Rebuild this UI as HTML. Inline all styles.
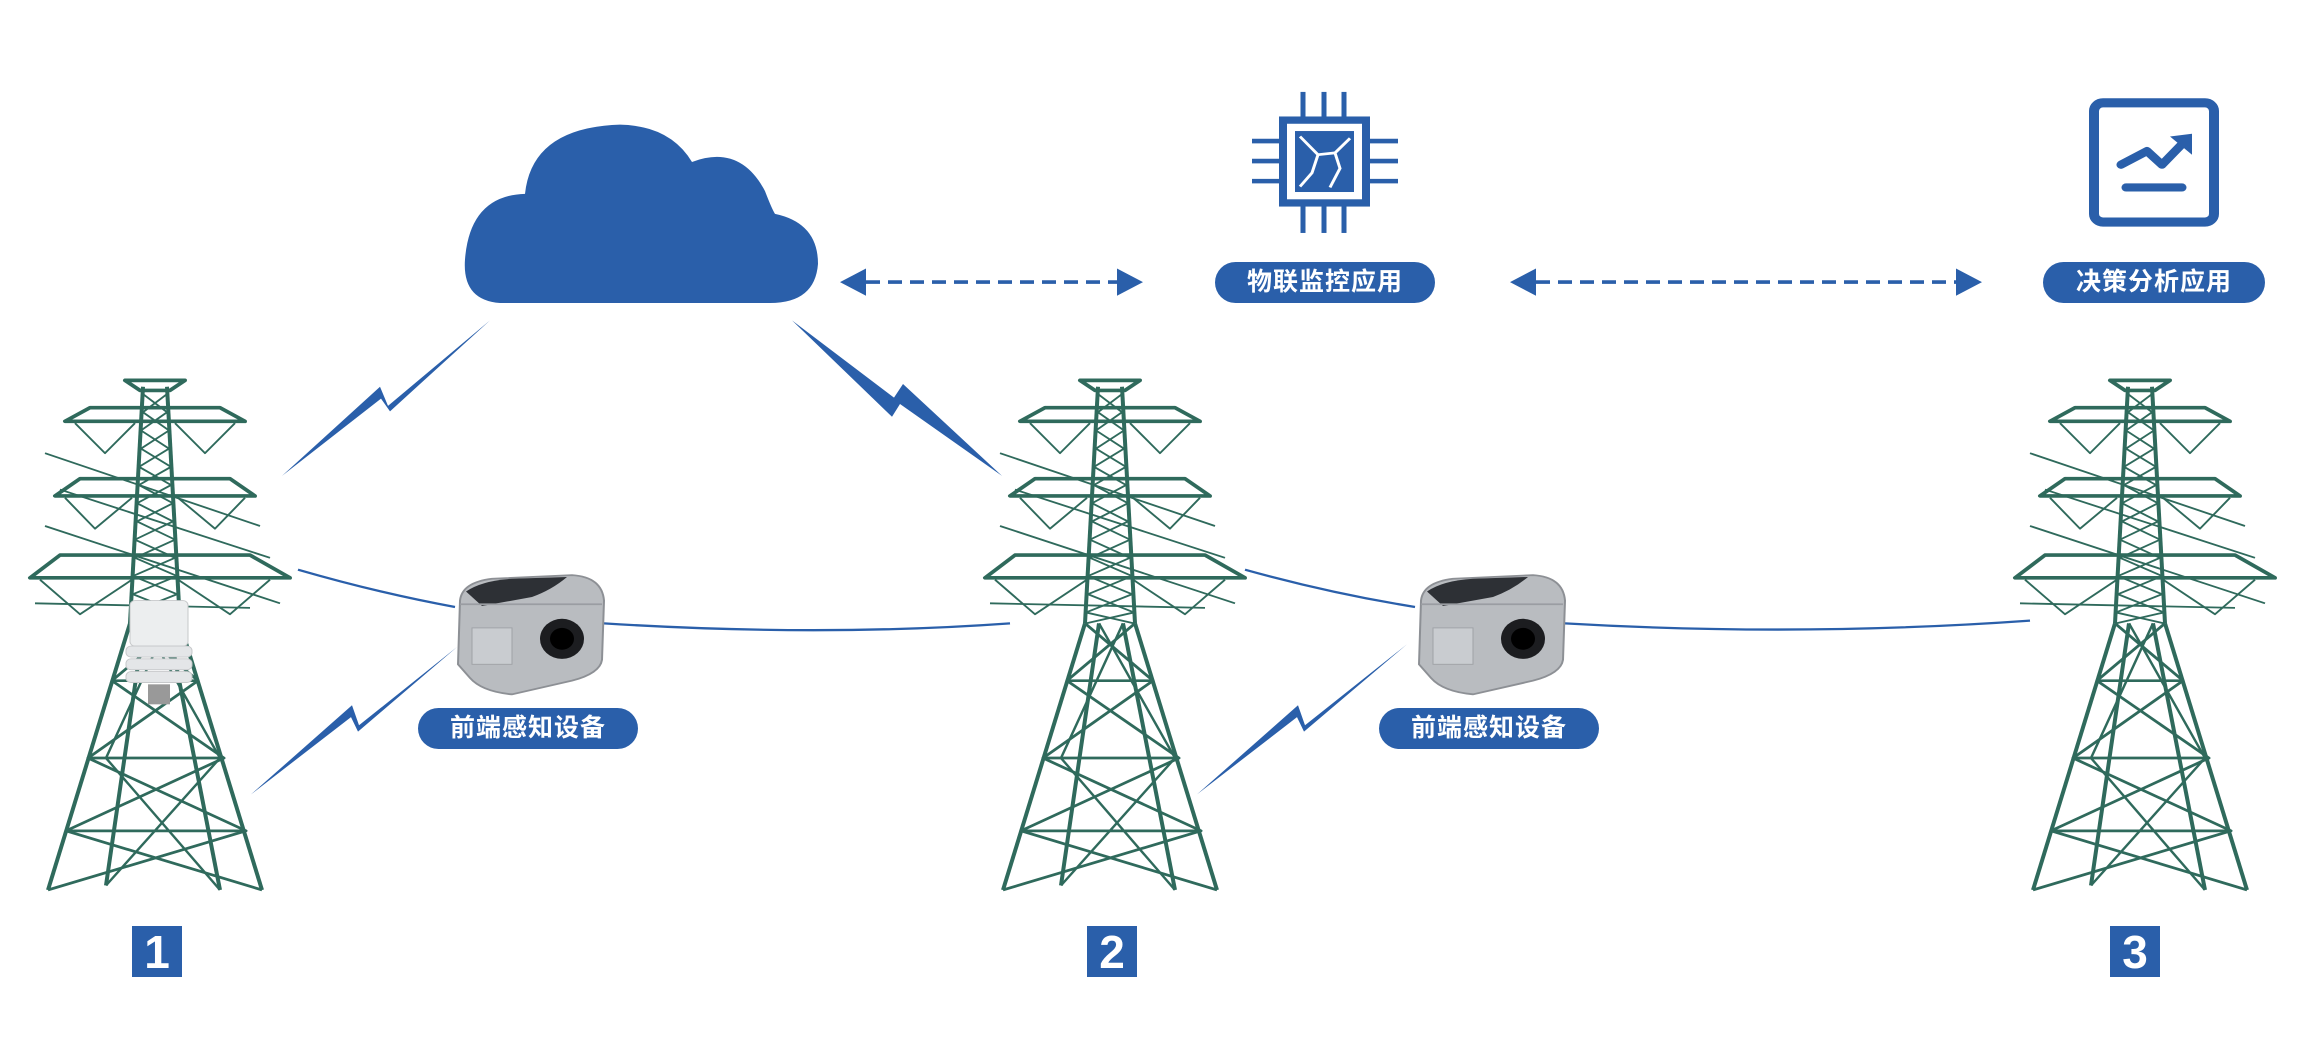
<!DOCTYPE html>
<html><head><meta charset="utf-8"><style>
html,body{margin:0;padding:0;background:#fff;}
body{width:2312px;height:1050px;position:relative;overflow:hidden;font-family:"Liberation Sans","Noto Sans CJK SC",sans-serif;}
.pill{position:absolute;height:41px;line-height:41px;background:#2a5faa;color:#fff;border-radius:21px;text-align:center;font-size:25px;font-weight:bold;letter-spacing:1px;}
.num{position:absolute;width:50px;height:51px;background:#2a5faa;color:#fff;font-size:46px;font-weight:bold;text-align:center;line-height:53px;}
</style></head><body>
<svg width="2312" height="1050" style="position:absolute;left:0;top:0">
<defs>
<g id="tower" fill="none" stroke="#2f6a5c" stroke-width="4" stroke-linejoin="round">
 <polygon points="105,5 165,5 150,16 120,16"/>
 <line x1="123" y1="12" x2="110" y2="272"/><line x1="147" y1="12" x2="160" y2="272"/>
 <polyline stroke-width="2" points="123,20 147,40 121,60 149,80 119,100 151,120 117,140 153,160 115,180 155,200 113,220 157,240 111,260 159,272"/>
 <polyline stroke-width="2" points="147,20 123,40 149,60 121,80 151,100 119,120 153,140 117,160 155,180 115,200 157,220 113,240 159,260 111,272"/>
 <polygon points="45,50 225,50 200,35 70,35"/>
 <polyline stroke-width="2" points="55,52 85,85 115,52"/><polyline stroke-width="2" points="215,52 185,85 155,52"/>
 <polygon points="35,132 235,132 210,113 60,113"/>
 <polyline stroke-width="2" points="45,134 75,168 112,134"/><polyline stroke-width="2" points="225,134 195,168 158,134"/>
 <polygon points="10,222 270,222 230,197 40,197"/>
 <polyline stroke-width="2" points="20,224 60,262 112,224"/><polyline stroke-width="2" points="250,224 210,262 158,224"/>
 <line stroke-width="2" x1="25" y1="165" x2="260" y2="250"/><line stroke-width="2" x1="15" y1="250" x2="230" y2="255"/>
 <line stroke-width="2" x1="25" y1="85" x2="240" y2="165"/><line stroke-width="2" x1="40" y1="125" x2="250" y2="200"/>
 <line x1="110" y1="272" x2="28" y2="565"/><line x1="124" y1="272" x2="86" y2="560"/>
 <line x1="148" y1="272" x2="200" y2="565"/><line x1="160" y1="272" x2="242" y2="565"/>
 <line stroke-width="3" x1="92" y1="335" x2="178" y2="335"/><line stroke-width="3" x1="68" y1="420" x2="204" y2="420"/><line stroke-width="3" x1="46" y1="500" x2="226" y2="500"/>
 <polyline stroke-width="3" points="110,272 178,335 68,420 226,500 28,565"/>
 <polyline stroke-width="3" points="160,272 92,335 204,420 46,500 242,565"/>
 <polyline stroke-width="2.5" points="124,272 200,420 86,560"/><polyline stroke-width="2.5" points="148,272 86,420 200,565"/>
</g>
<g id="device">
 <path d="M8,30 Q10,10 40,6 L120,2 Q150,4 152,30 L150,95 Q148,110 120,118 L60,133 Q30,130 18,115 L6,100 Z" fill="#b9bcc0" stroke="#8d9095" stroke-width="2"/>
 <path d="M14,20 Q30,8 60,6 L115,4 Q100,18 80,26 L30,36 Z" fill="#2d3035"/>
 <path d="M8,34 L150,34" stroke="#9a9da2" stroke-width="2"/>
 <circle cx="110" cy="72" r="22" fill="#1c1d20"/><circle cx="110" cy="72" r="12" fill="#000"/>
 <rect x="20" y="60" width="40" height="40" fill="#c9ccd0" stroke="#9fa2a6"/>
</g>
</defs>
<g transform="matrix(1,0,0,0.91,0,0)">
<use href="#tower" x="20" y="413"/>
<use href="#tower" x="975" y="413"/>
<use href="#tower" x="2005" y="413"/>
<g fill="none" stroke="#2a5faa" stroke-width="2.5">
 <path d="M298,626 Q380,652 455,667"/>
 <path d="M604,685 Q820,700 1010,685"/>
 <path d="M1245,626 Q1330,652 1415,667"/>
 <path d="M1565,685 Q1800,700 2030,682"/>
</g>
<path d="M500,333 Q462,330 465,285 Q470,215 525,213 Q532,140 620,137 Q670,138 692,178 Q740,158 765,210 Q772,230 775,235 Q818,245 818,290 Q815,333 770,333 Z" fill="#2a5faa"/>
<g fill="#2a5faa">
 <polygon points="282,523 380,425 388,446 490,352 390,452 381,438"/>
 <polygon points="792,352 894,437 903,422 1002,523 900,444 892,458"/>
 <polygon points="251,873 352,775 359,797 457,711 358,804 351,788"/>
 <polygon points="1197,873 1298,775 1305,797 1407,708 1304,804 1297,788"/>
</g>
<g fill="#2a5faa">
 <line x1="866" y1="310" x2="1120" y2="310" stroke="#2a5faa" stroke-width="4" stroke-dasharray="14,8"/>
 <polygon points="840,310 866,295 866,325"/><polygon points="1143,310 1117,295 1117,325"/>
 <line x1="1536" y1="310" x2="1958" y2="310" stroke="#2a5faa" stroke-width="4" stroke-dasharray="14,8"/>
 <polygon points="1510,310 1536,295 1536,325"/><polygon points="1982,310 1956,295 1956,325"/>
</g>
<g stroke="#2a5faa" stroke-width="5" fill="none">
 <line x1="1303" y1="101" x2="1303" y2="130"/><line x1="1324" y1="101" x2="1324" y2="130"/><line x1="1344" y1="101" x2="1344" y2="130"/>
 <line x1="1303" y1="225" x2="1303" y2="256"/><line x1="1324" y1="225" x2="1324" y2="256"/><line x1="1344" y1="225" x2="1344" y2="256"/>
 <line x1="1252" y1="155" x2="1281" y2="155"/><line x1="1252" y1="177" x2="1281" y2="177"/><line x1="1252" y1="199" x2="1281" y2="199"/>
 <line x1="1368" y1="155" x2="1398" y2="155"/><line x1="1368" y1="177" x2="1398" y2="177"/><line x1="1368" y1="199" x2="1398" y2="199"/>
 <rect x="1283" y="132" width="83" height="91" stroke-width="8"/>
</g>
<rect x="1295" y="144" width="59" height="67" fill="#2a5faa"/>
<g stroke="#fff" stroke-width="3" fill="none"><polyline points="1300,150 1318,170 1312,190 1300,205"/><polyline points="1350,152 1335,168 1340,185 1330,206"/><line x1="1318" y1="170" x2="1335" y2="168"/></g>
<rect x="2094" y="113" width="120" height="131" rx="9" fill="none" stroke="#2a5faa" stroke-width="10"/>
<polyline points="2121,181 2147,166 2162,181 2185,155" fill="none" stroke="#2a5faa" stroke-width="9" stroke-linecap="round" stroke-linejoin="round"/>
<polygon points="2192,147 2192,170 2170,150" fill="#2a5faa"/>
<line x1="2126" y1="206" x2="2182" y2="206" stroke="#2a5faa" stroke-width="9" stroke-linecap="round"/>
<g>
 <rect x="130" y="660" width="58" height="50" rx="5" fill="#eceeef" stroke="#c6c8ca"/>
 <rect x="126" y="710" width="66" height="12" rx="5" fill="#e4e6e8" stroke="#c6c8ca"/>
 <rect x="126" y="724" width="66" height="12" rx="5" fill="#e4e6e8" stroke="#c6c8ca"/>
 <rect x="126" y="738" width="66" height="12" rx="5" fill="#e4e6e8" stroke="#c6c8ca"/>
 <rect x="148" y="752" width="22" height="22" fill="#999"/>
</g>
<use href="#device" x="452" y="630"/>
<use href="#device" x="1413" y="630"/>
</g>
</svg>
<div class="pill" style="left:418px;top:708px;width:220px;">前端感知设备</div>
<div class="pill" style="left:1379px;top:708px;width:220px;">前端感知设备</div>
<div class="pill" style="left:1215px;top:262px;width:220px;">物联监控应用</div>
<div class="pill" style="left:2043px;top:262px;width:222px;">决策分析应用</div>
<div class="num" style="left:132px;top:926px;">1</div>
<div class="num" style="left:1087px;top:926px;">2</div>
<div class="num" style="left:2110px;top:926px;">3</div>
</body></html>
